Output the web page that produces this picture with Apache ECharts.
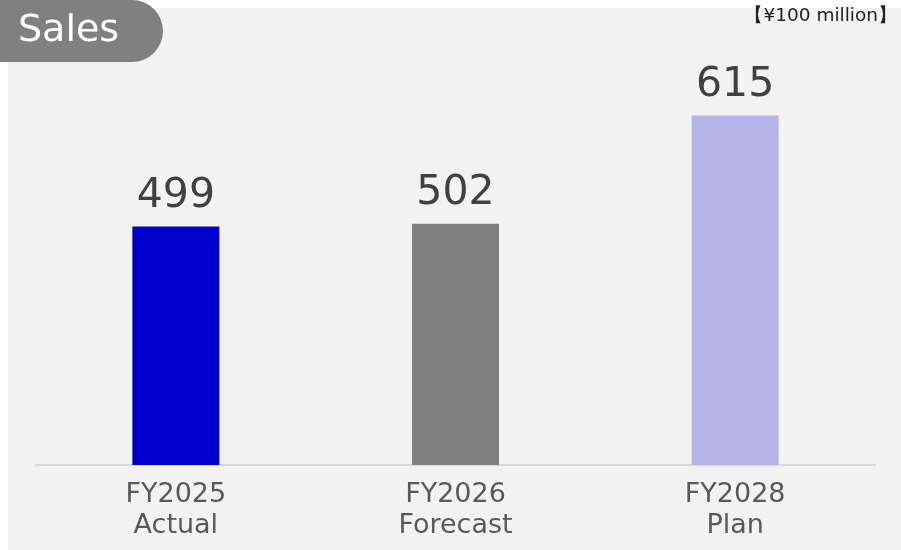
<!DOCTYPE html>
<html><head><meta charset="utf-8">
<script src="https://cdn.jsdelivr.net/npm/echarts@6/dist/echarts.min.js"></script>
<style>html,body{margin:0;padding:0;background:#f2f2f2}#c{width:901px;height:550px}</style>
</head><body><div id="c"></div>
<script>
const categories = ["FY2025", "FY2026", "FY2028"];
const subLabels = ["Actual", "Forecast", "Plan"];
const sales = [499, 502, 615];
const barColors = ["#0000cc", "#808080", "#b4b4e6"];
const titleText = "Sales";
const unitText = "【¥100 million】";

const chart = echarts.init(document.getElementById('c'));
chart.setOption({
  animation: false,
  backgroundColor: '#f2f2f2',
  textStyle: {fontFamily: 'DejaVu Sans'},
  graphic: [
    {type: 'rect', left: 0, top: 0, shape: {width: 901, height: 8}, style: {fill: '#ffffff'}, z: -10},
    {type: 'rect', left: 0, top: 0, shape: {width: 8, height: 550}, style: {fill: '#ffffff'}, z: -10},
    {type: 'rect', left: 0, top: 0, shape: {width: 163, height: 62, r: [0, 31, 31, 0]}, style: {fill: '#808080'}, z: 5},
    {type: 'text', left: 18, top: 12, style: {text: titleText, fill: '#fff', font: '38px "DejaVu Sans"'}, z: 6},
    {type: 'text', right: 4, top: 7, style: {text: unitText, fill: '#222', font: '18.5px "DejaVu Sans"'}, z: 6}
  ],
  grid: {left: 36, right: 26, top: 82, bottom: 85},
  xAxis: {
    type: 'category',
    data: categories,
    axisLine: {lineStyle: {color: '#d9d9d9', width: 2}},
    axisTick: {show: false},
    axisLabel: {
      margin: 14,
      color: '#595959',
      fontSize: 27,
      lineHeight: 31,
      formatter: (v, i) => v + '\n' + subLabels[i]
    }
  },
  yAxis: {type: 'value', min: 250, max: 650, show: false, splitLine: {show: false}},
  series: [{
    type: 'bar',
    barWidth: 87,
    data: sales.map((v, i) => ({value: v, itemStyle: {color: barColors[i]}})),
    label: {show: true, position: 'top', distance: 10, color: '#404040', fontSize: 41}
  }]
});
</script></body></html>
